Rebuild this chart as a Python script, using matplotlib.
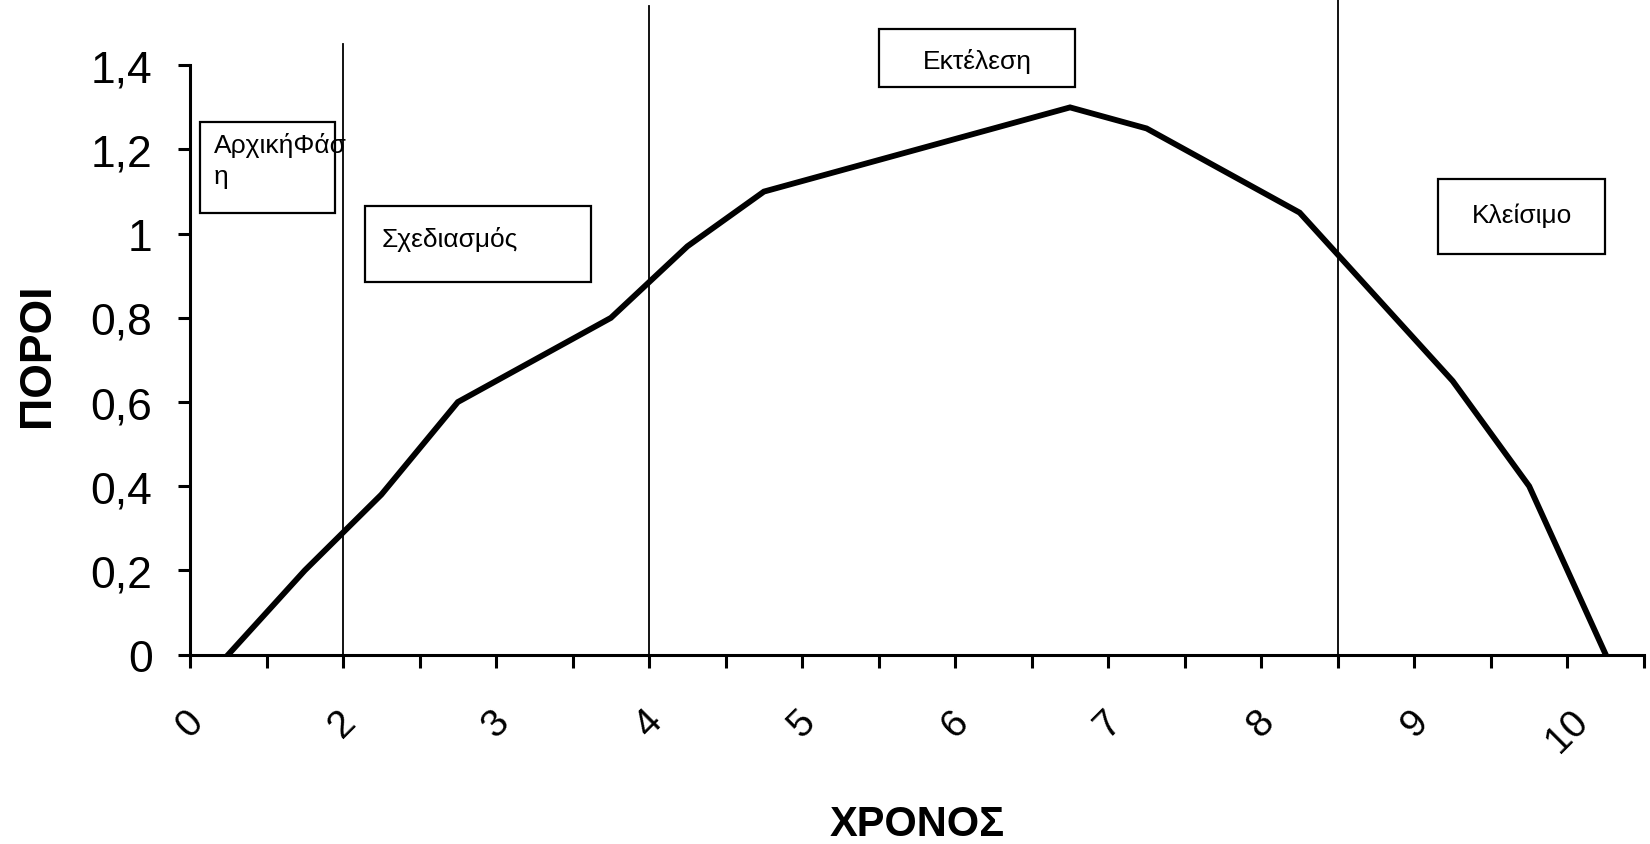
import matplotlib
matplotlib.use("Agg")
import matplotlib.pyplot as plt
import matplotlib.transforms as mtransforms
from matplotlib.patches import Rectangle

plt.rcParams['font.family'] = ['Liberation Sans', 'DejaVu Sans']

# ----------------------------------------
# Data: resources per time category (19 categories)
# ----------------------------------------
resources = [0, 0.2, 0.38, 0.6, 0.7, 0.8, 0.97, 1.1, 1.15, 1.2, 1.25, 1.3,
             1.25, 1.15, 1.05, 0.85, 0.65, 0.4, 0]
time_labels = ['0', '2', '3', '4', '5', '6', '7', '8', '9', '10']
y_ticks = [0, 0.2, 0.4, 0.6, 0.8, 1.0, 1.2, 1.4]
y_labels = ['0', '0,2', '0,4', '0,6', '0,8', '1', '1,2', '1,4']

# phase boundaries (category edges) and how high each drawn line reaches
phase_lines = [2, 6, 15]
phase_tops = [1.45, 1.54, 1.56]

# phase label boxes, in pixels of the 1650x845 picture: (x0, y0, x1, y1)
phase_names = ['ΑρχικήΦάσ\nη', 'Σχεδιασμός', 'Εκτέλεση', 'Κλείσιμο']
phase_boxes = [(200, 123, 335, 214), (365, 207, 591, 283),
               (879, 30, 1075, 88), (1438, 180, 1605, 255)]
# text anchor (pixels) and alignment per box
text_pos = [(214, 133, 'left', 'top'), (382, 240, 'left', 'center'),
            (977, 61, 'center', 'center'), (1522, 215.5, 'center', 'center')]

W, H = 1650, 845
fig = plt.figure(figsize=(W / 100, H / 100), dpi=100)
ax = fig.add_axes([190 / W, 1 - 655.6 / H, (1644 - 190) / W, (655.6 - 66.3) / H])

x = [i + 0.5 for i in range(len(resources))]
ax.plot(x, resources, color='black', lw=4.2, solid_joinstyle='miter')

for xv, top in zip(phase_lines, phase_tops):
    ax.plot([xv, xv], [0, top], color='black', lw=1.3, clip_on=False)

ax.set_xlim(0, 19)
ax.set_ylim(0, 1.4)
ax.set_xticks(range(0, 19, 2))
ax.set_xticklabels(time_labels, rotation=45, ha='center', va='top', fontsize=28)
ax.set_xticks(range(1, 20, 2), minor=True)
ax.set_yticks(y_ticks)
ax.set_yticklabels(y_labels, fontsize=32)

# rotated labels sit a little left of their ticks in the original
shift = mtransforms.ScaledTranslation(-6 / 100, 0, fig.dpi_scale_trans)
for lab in ax.get_xticklabels():
    lab.set_transform(lab.get_transform() + shift)

for s in ['top', 'right']:
    ax.spines[s].set_visible(False)
for s in ['left', 'bottom']:
    ax.spines[s].set_linewidth(2.2)
ax.tick_params(axis='x', which='both', direction='out', length=9.5, width=2.2, pad=25)
ax.tick_params(axis='y', direction='out', length=9, width=2.2, pad=18)

ax.set_xlabel('ΧΡΟΝΟΣ', fontsize=30, fontweight='bold', va='baseline')
ax.xaxis.set_label_coords(0.5, (655.6 - 836) / 589.3)
ax.set_ylabel('ΠΟΡΟΙ', fontsize=32, fontweight='bold', va='center')
ax.yaxis.set_label_coords((37 - 190) / 1454, (655.6 - 355) / 589.3)

# phase boxes with their names
for name, (x0, y0, x1, y1), (tx, ty, ha, va) in zip(phase_names, phase_boxes, text_pos):
    rect = Rectangle((x0 / W, 1 - y1 / H), (x1 - x0) / W, (y1 - y0) / H,
                     transform=fig.transFigure, facecolor='white',
                     edgecolor='black', lw=1.6)
    fig.patches.append(rect)
    fig.text(tx / W, 1 - ty / H, name, fontsize=19, ha=ha, va=va,
             linespacing=1.38)

fig.savefig('out.png', dpi=100)
